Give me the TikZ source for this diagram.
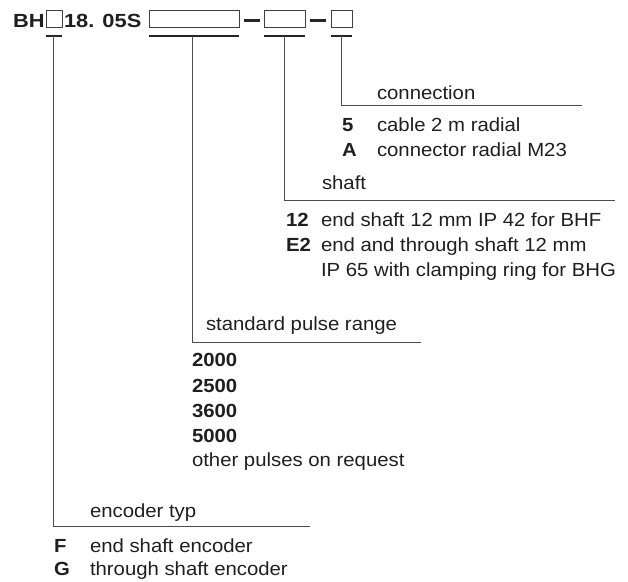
\documentclass[tikz,border=0pt]{standalone}
\usepackage{fontspec}
\setmainfont{Liberation Sans}[FakeStretch=1.07]
\newfontfamily\titlefont{Liberation Sans}[FakeStretch=1.15]
\begin{document}
\begin{tikzpicture}[x=1pt,y=-1pt,
  txt/.style={anchor=base west,inner sep=0pt,outer sep=0pt,text=black!88,font=\fontsize{19}{22}\selectfont},
  bld/.style={txt,font=\fontsize{19}{22}\selectfont\bfseries},
  ttl/.style={txt,font=\fontsize{19}{22}\selectfont\titlefont\bfseries},
  slot/.style={draw=black!75,line width=0.9pt},
  bar/.style={draw=black!85,line width=2.2pt},
  lead/.style={draw=black!70,line width=0.8pt},
  dashbar/.style={draw=black!85,line width=2.2pt}]
\useasboundingbox (0,0) rectangle (628,581);
% title
\node[ttl] (bh) at (13,27) {BH};
\draw[slot] (46,10) rectangle (62,27);
\node[ttl] (code) at (64,27) {18. 05S};
\draw[slot] (149,10) rectangle (239,27);
\draw[dashbar] (244,20.5) -- (260,20.5);
\draw[slot] (264,10) rectangle (305,27);
\draw[dashbar] (310,20.5) -- (326,20.5);
\draw[slot] (331,10) rectangle (352,27);
% underline bars
\coordinate (u1a) at (46,36); \coordinate (u1b) at (62,36);
\coordinate (u2a) at (149,36); \coordinate (u2b) at (239,36);
\coordinate (u3a) at (264,36); \coordinate (u3b) at (305,36);
\coordinate (u4a) at (331,36); \coordinate (u4b) at (352,36);
\draw[bar] (u1a) -- (u1b);
\draw[bar] (u2a) -- (u2b);
\draw[bar] (u3a) -- (u3b);
\draw[bar] (u4a) -- (u4b);
% leaders
\coordinate (t1) at (53,36);  \coordinate (c1) at (53,526);  \coordinate (e1) at (310,526);
\coordinate (t2) at (192,36); \coordinate (c2) at (192,342); \coordinate (e2) at (421,342);
\coordinate (t3) at (284.5,36); \coordinate (c3) at (284.5,200.7); \coordinate (e3) at (615,200.7);
\coordinate (t4) at (341,36); \coordinate (c4) at (341,105); \coordinate (e4) at (582,105);
\draw[lead] (t1) -- (c1) -- (e1);
\draw[lead] (t2) -- (c2) -- (e2);
\draw[lead] (t3) -- (c3) -- (e3);
\draw[lead] (t4) -- (c4) -- (e4);
% connection
\node[txt] (conn) at (377,99) {connection};
\node[bld] (k5) at (342,131) {5};
\node[txt] (v5) at (377,131) {cable 2 m radial};
\node[bld] (kA) at (342,156) {A};
\node[txt] (vA) at (377,156) {connector radial M23};
% shaft
\node[txt] (shaft) at (322,189) {shaft};
\node[bld] (k12) at (286,226) {12};
\node[txt] (v12) at (321,226) {end shaft 12 mm IP 42 for BHF};
\node[bld] (kE2) at (286,251.7) {E2};
\node[txt] (vE2) at (321,251.7) {end and through shaft 12 mm};
\node[txt] (vE2b) at (321,276.7) {IP 65 with clamping ring for BHG};
% pulse range
\node[txt] (spr) at (206,330) {standard pulse range};
\node[bld] (p1) at (192,366.7) {2000};
\node[bld] (p2) at (192,392) {2500};
\node[bld] (p3) at (192,417) {3600};
\node[bld] (p4) at (192,442) {5000};
\node[txt] (po) at (192,466.5) {other pulses on request};
% encoder typ
\node[txt] (et) at (90,517) {encoder typ};
\node[bld] (kF) at (54,552) {F};
\node[txt] (vF) at (90,552) {end shaft encoder};
\node[bld] (kG) at (54,575) {G};
\node[txt] (vG) at (90,575) {through shaft encoder};
\end{tikzpicture}
\end{document}
